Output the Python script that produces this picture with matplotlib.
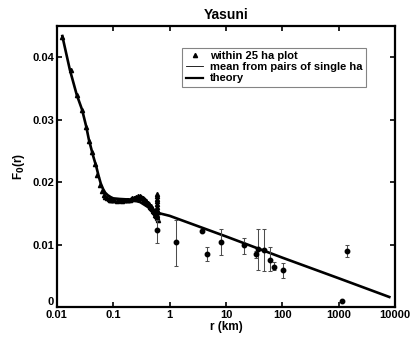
import numpy as np
import matplotlib
matplotlib.use('Agg')
import matplotlib.pyplot as plt
import matplotlib.transforms as mtransforms
from matplotlib.lines import Line2D
from matplotlib.ticker import FixedLocator, FixedFormatter, NullLocator

plt.rcParams['font.family'] = ['Liberation Sans', 'DejaVu Sans']
plt.rcParams['font.weight'] = 'bold'

# within 25 ha plot (triangles)
plot_r = [0.0125, 0.0175, 0.0225, 0.0275, 0.0325, 0.0375, 0.0425, 0.0475,
          0.0525, 0.0575, 0.0625, 0.0675, 0.0725, 0.0775, 0.0825, 0.0875,
          0.0925, 0.0975,
          0.105, 0.115, 0.125, 0.135, 0.145, 0.155, 0.165, 0.175, 0.185,
          0.195, 0.205, 0.215, 0.225, 0.235, 0.245, 0.255, 0.265, 0.275,
          0.285, 0.295, 0.305, 0.315, 0.325, 0.335, 0.345, 0.355, 0.365,
          0.375, 0.385, 0.395, 0.405, 0.415, 0.425, 0.435, 0.445, 0.455,
          0.465, 0.475, 0.485, 0.495, 0.505, 0.515, 0.525, 0.535, 0.545,
          0.555, 0.565, 0.575, 0.585, 0.595,
          0.60, 0.60, 0.60, 0.60, 0.60, 0.60, 0.61, 0.61, 0.61, 0.62, 0.62]
plot_f = [0.0432, 0.0379, 0.0340, 0.0316, 0.0289, 0.0266, 0.0248, 0.0229,
          0.0211, 0.0196, 0.0186, 0.0180, 0.0176, 0.0174, 0.0173, 0.0172,
          0.0171, 0.0172,
          0.0171, 0.0170, 0.0171, 0.0171, 0.0170, 0.0171, 0.0171, 0.0172,
          0.0171, 0.0172, 0.0173, 0.0174, 0.0173, 0.0175, 0.0174, 0.0176,
          0.0175, 0.0177, 0.0176, 0.0177, 0.0175, 0.0176, 0.0174, 0.0175,
          0.0172, 0.0173, 0.0171, 0.0169, 0.0170, 0.0167, 0.0166, 0.0167,
          0.0164, 0.0165, 0.0162, 0.0160, 0.0161, 0.0158, 0.0157, 0.0158,
          0.0155, 0.0154, 0.0152, 0.0153, 0.0150, 0.0148, 0.0151, 0.0146,
          0.0149, 0.0144,
          0.0181, 0.0177, 0.0173, 0.0169, 0.0165, 0.0160, 0.0156, 0.0147,
          0.0142, 0.0152, 0.0139]

# mean from pairs of single ha plots (circles with error bars)
pair_r = [0.605, 1.30, 3.81, 4.61, 8.18, 20.9, 34.3, 37.7, 47.5, 59.2,
          71.5, 103, 1153, 1416]
pair_f = [0.01226, 0.01043, 0.01221, 0.00850, 0.01048, 0.00989, 0.00844,
          0.00930, 0.00908, 0.00758, 0.00645, 0.00586, 0.00102, 0.00903]
pair_lo = [0.01020, 0.00660, 0.01200, 0.00742, 0.00839, 0.00855, 0.00790,
           0.00597, 0.00570, 0.00570, 0.00585, 0.00463, 0.00102, 0.00806]
pair_hi = [0.01400, 0.01400, 0.01240, 0.00963, 0.01253, 0.01100, 0.00900,
           0.01253, 0.01242, 0.00957, 0.00720, 0.00705, 0.00102, 0.00989]

# theory curve
theory_r = [0.0125, 0.017, 0.0225, 0.028, 0.033, 0.037, 0.044, 0.05, 0.055,
            0.06, 0.066, 0.072, 0.08, 0.09, 0.1, 0.13, 0.2, 0.3, 0.45, 0.6,
            1, 10, 100, 1000, 7900]
theory_f = [0.0434, 0.0380, 0.0340, 0.0316, 0.0290, 0.0268, 0.0242, 0.0225,
            0.0210, 0.0198, 0.0189, 0.0183, 0.0179, 0.0176, 0.0174, 0.0173,
            0.0172, 0.0168, 0.0158, 0.0151, 0.0146, 0.0113, 0.0079, 0.0046,
            0.0016]

xticks = [0.01, 0.1, 1, 10, 100, 1000, 10000]
xtick_labels = ['0.01', '0.1', '1', '10', '100', '1000', '10000']
yticks = [0, 0.01, 0.02, 0.03, 0.04]
ytick_labels = ['0', '0.01', '0.02', '0.03', '0.04']

fig = plt.figure(figsize=(4.15, 3.44), dpi=100)
ax = fig.add_axes([0.137, 0.1076, 0.815, 0.8168])

ax.plot(theory_r, theory_f, color='black', lw=1.9, zorder=2)
ax.plot(plot_r, plot_f, linestyle='none', marker='^', ms=3,
        color='black', zorder=3)

pair_f = np.array(pair_f)
yerr = [pair_f - np.array(pair_lo), np.array(pair_hi) - pair_f]
ax.errorbar(pair_r, pair_f, yerr=yerr, fmt='o', ms=3.2, color='black',
            ecolor='0.3', elinewidth=0.75, capsize=1.6, capthick=0.75,
            zorder=4)

ax.set_xscale('log')
ax.set_xlim(0.01, 10000)
ax.set_ylim(0, 0.045)
ax.xaxis.set_major_locator(FixedLocator(xticks))
ax.xaxis.set_major_formatter(FixedFormatter(xtick_labels))
ax.xaxis.set_minor_locator(NullLocator())
ax.set_yticks(yticks)
ax.set_yticklabels(ytick_labels)

ax.tick_params(direction='in', length=3.5, width=1.2, top=True, right=True,
               labelsize=8, pad=2)
for lab in ax.get_xticklabels() + ax.get_yticklabels():
    lab.set_fontweight('bold')
# lift the "0" label so it clears the x tick labels
zero_lab = ax.get_yticklabels()[0]
zero_lab.set_transform(zero_lab.get_transform() +
                       mtransforms.ScaledTranslation(0, 4 / 72,
                                                     fig.dpi_scale_trans))
for sp in ax.spines.values():
    sp.set_linewidth(1.6)

ax.set_title('Yasuni', fontsize=10, fontweight='bold', pad=5)
ax.set_xlabel('r (km)', fontsize=8.5, fontweight='bold', labelpad=1)
ax.set_ylabel(r'F$_\mathbf{0}$(r)', fontsize=8.5, fontweight='bold',
              labelpad=4)

handles = [
    Line2D([], [], linestyle='none', marker='^', ms=3, color='black'),
    Line2D([], [], color='black', lw=0.6),
    Line2D([], [], color='black', lw=1.6),
]
labels = ['within 25 ha plot', 'mean from pairs of single ha', 'theory']
leg = ax.legend(handles, labels, loc='upper right',
                bbox_to_anchor=(0.914, 0.922), fontsize=8, frameon=True,
                fancybox=False, edgecolor='0.4', handlelength=1.6,
                handletextpad=0.6, borderpad=0.3, labelspacing=0.1,
                borderaxespad=0)
leg.get_frame().set_linewidth(0.8)
for t in leg.get_texts():
    t.set_fontweight('bold')

fig.savefig('out.png', dpi=100)
